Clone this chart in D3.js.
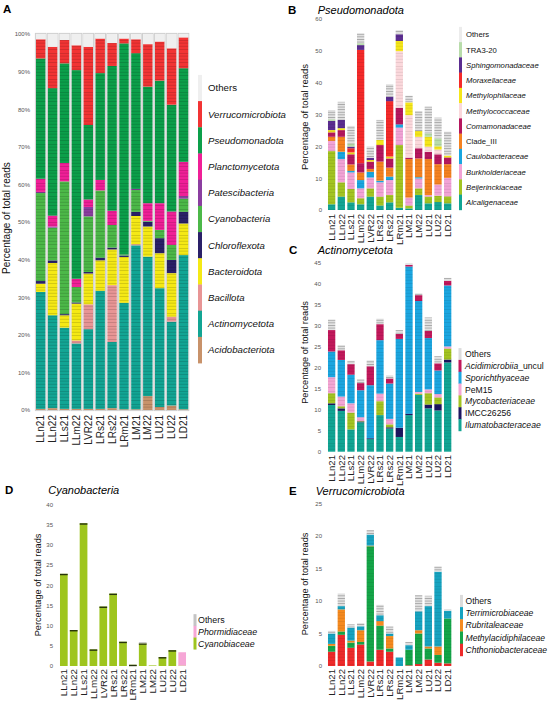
<!DOCTYPE html>
<html><head><meta charset="utf-8">
<script src="https://cdn.jsdelivr.net/npm/d3@7"></script>
<style>
body{margin:0;background:#fff;}
svg{display:block;font-family:"Liberation Sans",Arial,sans-serif;}
</style></head><body>
<svg id="chart" width="550" height="702"></svg>
<script>
const samples = ["LLn21","LLn22","LLs21","LLm22","LVR22","LRs21","LRs22","LRm21","LM21","LM22","LU21","LU22","LD21"];

// ---- Panel A: phyla (% of total reads), bottom -> top
const phylaA = ["Acidobacteriota","Actinomycetota","Bacillota","Bacteroidota","Chloroflexota","Cyanobacteria","Patescibacteria","Planctomycetota","Pseudomonadota","Verrucomicrobiota","Others"];
const colorsA = ["#c8926a","#12a594","#e89595","#f5e915","#2a2068","#4cb848","#8b3ea0","#f01f97","#0c9f4a","#f23434","#efefef"];
const aAcidobacteriota   = [0.3,0.5,0.3,0.3,0.3,0.3,0.5,0.2,0.2,3.7,0.8,1.2,0.2];
const aActinomycetota    = [31.1,24.7,21.6,17.4,21.2,31.4,17.6,28.3,43.6,37.1,31.6,22.3,41.0];
const aBacillota         = [0,0,0,0.8,6.6,0,15.1,0,0.3,0,0,1.3,0];
const aBacteroidota      = [2.2,13.9,3.3,9.8,8.2,8.1,9.5,12.2,7.5,8.0,9.3,11.6,8.4];
const aChloroflexota     = [0.7,0.7,0.3,0.3,0.4,0.7,0.5,0.4,1.1,1.3,4.0,3.5,3.1];
const aCyanobacteria     = [23.4,8.7,35.3,4.1,14.8,17.9,6.0,0.3,5.8,0.2,2.2,4.0,3.5];
const aPatescibacteria   = [0.3,0.3,0,0,2.5,0,0,0,0.3,0,0,0,0.7];
const aPlanctomycetota   = [3.5,2.9,4.9,2.2,2.0,2.8,3.8,0,0,4.7,7.1,8.9,9.1];
const aPseudomonadota    = [32.0,33.9,26.5,55.5,19.8,28.4,38.5,56.1,36.1,31.0,32.6,28.4,24.9];
const aVerrucomicrobiota = [5.1,11.0,6.2,6.6,20.8,9.2,6.1,1.3,3.7,11.3,10.4,15.0,8.2];
const aOthers            = [1.4,3.4,1.6,3.0,3.4,1.2,2.4,1.2,1.4,2.7,2.0,3.8,0.9];

// ---- Panel B: Pseudomonadota families
const famB = ["Alcaligenaceae","Beijerinckiaceae","Burkholderiaceae","Caulobacteraceae","Clade_III","Comamonadaceae","Methylococcaceae","Methylophilaceae","Moraxellaceae","Sphingomonadaceae","TRA3-20","Others"];
const colorsB = ["#12a594","#a3c422","#f2a3d6","#19a6e0","#f58220","#b5175e","#fbd8dc","#f5e61a","#f42a2a","#5b2d90","#b8dcaa","url(#oth)"];
const bAlcaligenaceae    = [1.8,4.2,2.4,1.8,4.2,1.4,2.4,0.7,0.5,4.7,2.1,2.5,2.1];
const bBeijerinckiaceae  = [16.7,4.5,4.2,1.9,2.6,2.8,2.3,19.7,0.9,2.1,2.1,2.0,2.2];
const bBurkholderiaceae  = [3.2,7.3,5.2,3.1,3.4,4.5,4.7,5.5,2.5,3.1,0.5,3.5,5.8];
const bCaulobacteraceae  = [0,2.3,0.5,2.6,1.8,0.5,1.1,1.0,0,0.4,0,0,0];
const bCladeIII          = [1.3,4.7,2.0,2.4,0.9,6.0,2.8,0,12.1,5.9,11.3,6.4,4.3];
const bComamonadaceae    = [1.4,2.1,3.2,2.9,2.3,5.2,2.9,5.2,0.4,3.2,2.3,3.1,2.1];
const bMethylococcaceae  = [0,0,0,0,0,0,0,17.8,13.4,3.6,1.6,1.5,0];
const bMethylophilaceae  = [0.7,0.6,0.6,0,0.5,1.6,0.6,3.2,4.0,1.8,3.1,1.0,0.6];
const bMoraxellaceae     = [0,0,1.3,35.6,0,0,17.4,0,0,0,0,0,0];
const bSphingomonadaceae = [2.9,2.6,0.5,1.5,0.7,0,1.4,2.1,0,0,0,0,0];
const bTRA320            = [0.5,0,1.0,0.6,0,0,0,0,0,0,1.1,2.5,0];
const bOthers            = [2.9,5.7,5.5,3.1,3.5,6.3,3.9,1.3,2.1,6.3,8.4,6.5,7.5];

// ---- Panel C: Actinomycetota families
const famC = ["Ilumatobacteraceae","IMCC26256","Mycobacteriaceae","PeM15","Sporichthyaceae","Acidimicrobiia_uncul","Others"];
const colorsC = ["#12a594","#1c1660","#a3c422","#f5a6d4","#1ba6e0","#c2185b","url(#oth)"];
const cIlumatobacteraceae = [11.1,9.7,5.3,7.0,3.0,8.7,5.5,3.5,8.7,13.5,10.3,9.8,21.2];
const cIMCC26256          = [0.4,0.6,0,0.2,0.2,0,0.3,2.2,0.3,0,0.9,1.5,0.7];
const cMycobacteriaceae   = [2.4,0.5,4.0,0.1,0,3.3,0.7,0,0,0.3,2.7,1.6,2.6];
const cPeM15              = [3.8,2.3,2.2,0.9,0,1.8,1.3,0,0,0.4,0.9,0.8,0.5];
const cSporichthyaceae    = [6.1,8.7,6.8,6.4,12.6,12.7,8.4,21.1,35.0,21.6,12.2,5.6,14.5];
const cAcidimicrobiia     = [5.1,2.3,2.5,1.7,4.5,3.8,1.2,1.2,0.4,1.4,1.7,1.7,1.1];
const cOthers             = [2.5,1.2,0.8,0.9,1.4,1.3,0.7,0.9,0.3,0.4,3.2,1.7,0.7];

// ---- Panel D: Cyanobacteria families
const famD = ["Cyanobiaceae","Phormidiaceae","Others"];
const colorsD = ["#9ec51e","#f6a6d6","#c4c4c4"];
const dCyanobiaceae  = [22.8,8.9,35.3,4.1,14.7,17.9,6.0,0.3,5.6,0.15,2.2,3.9,0.1];
const dPhormidiaceae = [0,0,0,0,0,0,0,0,0,0,0,0,3.3];
const dOthers        = [0,0,0,0,0,0,0,0,0.3,0,0,0,0];

// ---- Panel E: Verrucomicrobiota families
const famE = ["Chthoniobacteraceae","Methylacidiphilaceae","Rubritaleaceae","Terrimicrobiaceae","Others"];
const colorsE = ["#ee2a2a","#14a548","#f58a1f","#17a3c0","url(#oth)"];
const eChthoniobacteraceae  = [2.2,4.8,2.8,3.3,0.7,2.5,2.2,0,0.1,0.3,1.0,0.5,0.4];
const eMethylacidiphilaceae = [0.9,0.5,0.8,0.4,17.7,3.7,0.5,0,2.4,4.7,1.7,1.2,6.9];
const eRubritaleaceae       = [0.3,3.4,0.3,1.8,0.1,0.7,1.9,0,0,0.5,0.3,1.3,0];
const eTerrimicrobiaceae    = [1.6,0.5,2.0,0.6,1.7,0.9,0.4,1.3,0.7,2.9,6.2,11.5,1.2];
const eOthers               = [0.4,1.9,0.5,0.5,0.7,1.6,1.1,0,0.5,2.5,1.6,0.8,0.2];

const ticksA = d3.range(0,101,10), ticksB = d3.range(0,61,10), ticksC = d3.range(0,46,5), ticksD = d3.range(0,41,5), ticksE = d3.range(0,26,5);
const upright = new Set(["Others","TRA3-20","Clade_III","PeM15","IMCC26256"]);

const svg = d3.select("#chart");
const defs = svg.append("defs");
const tex = defs.append("pattern").attr("id","tex").attr("patternUnits","userSpaceOnUse").attr("width",20).attr("height",13);
[1.2,3.8,6.9,10.4].forEach(v=>tex.append("rect").attr("x",0).attr("y",v).attr("width",20).attr("height",0.55).attr("fill","rgba(0,0,0,0.28)"));
const oth = defs.append("pattern").attr("id","oth").attr("patternUnits","userSpaceOnUse").attr("width",10).attr("height",2.6);
oth.append("rect").attr("width",10).attr("height",2.6).attr("fill","#e3e3e3");
oth.append("rect").attr("width",10).attr("height",0.9).attr("fill","#a6a6a6");

const FONT = "Liberation Sans, Arial, sans-serif";

function drawPanel(c){
  const g = svg.append("g");
  const x = d3.scaleBand().domain(samples).range(c.xr).paddingInner(c.pad).paddingOuter(c.pad/2);
  const y = d3.scaleLinear().domain([0,c.ymax]).range(c.yr);
  const rows = samples.map((s,i)=>{const o={sample:s}; c.names.forEach((k,j)=>o[k]=c.values[j][i]); return o;});
  const stacked = d3.stack().keys(c.names)(rows);
  if(c.outline){
    g.selectAll("rect.ol").data(samples).join("rect").attr("class","ol")
      .attr("x",d=>x(d)-0.6).attr("y",y(100)-0.6).attr("width",x.bandwidth()+1.2).attr("height",y(0)-y(100)+1.2)
      .attr("fill","none").attr("stroke","#cfcfcf").attr("stroke-width",1);
  }
  const layers = g.selectAll("g.layer").data(stacked).join("g").attr("class","layer");
  layers.each(function(L,i){
    const segs = L.filter(p=>p[1]-p[0]>0);
    const sel = d3.select(this);
    sel.selectAll("rect.s").data(segs).join("rect").attr("class","s")
      .attr("x",d=>x(d.data.sample)).attr("width",x.bandwidth())
      .attr("y",d=>y(d[1])).attr("height",d=>y(d[0])-y(d[1]))
      .attr("fill",c.fills[i]);
    if(c.names[i]!=="Others" && c.tex>0){
      sel.selectAll("rect.t").data(segs).join("rect").attr("class","t")
        .attr("x",d=>x(d.data.sample)).attr("width",x.bandwidth())
        .attr("y",d=>y(d[1])).attr("height",d=>y(d[0])-y(d[1]))
        .attr("fill","url(#tex)").attr("opacity",c.tex);
    }
    if(c.topLine && c.names[i]==="Cyanobiaceae"){
      sel.selectAll("rect.tl").data(segs.filter(d=>d[1]-d[0]>0.2)).join("rect").attr("class","tl")
        .attr("x",d=>x(d.data.sample)).attr("width",x.bandwidth())
        .attr("y",d=>y(d[1])).attr("height",1.4).attr("fill","#26330c");
    }
  });
  const ay = g.append("g").attr("transform",`translate(${c.tickX},0)`)
    .call(d3.axisLeft(y).tickValues(c.ticks).tickSize(0).tickPadding(0).tickFormat(c.fmt||(d=>d)));
  ay.attr("font-family",FONT); ay.select(".domain").remove();
  ay.selectAll("text").attr("font-size",6).attr("fill","#555");
  const ax = g.append("g").attr("transform",`translate(0,${c.xlabY})`)
    .call(d3.axisBottom(x).tickSize(0).tickPadding(0));
  ax.attr("font-family",FONT); ax.select(".domain").remove();
  ax.selectAll("text").attr("transform","rotate(-90)").attr("text-anchor","end")
    .attr("x",0).attr("y",0).attr("dy","0.36em").attr("font-size",c.xfs).attr("fill","#222");
  g.append("text").attr("transform",`translate(${c.ylab[0]},${c.ylab[1]}) rotate(-90)`)
    .attr("text-anchor","middle").attr("font-size",c.ylab[2]).attr("fill","#111").text("Percentage of total reads");
  // legend
  const lg = c.legend;
  const items = c.names.map((n,i)=>({n, f: c.legFills ? c.legFills[i] : c.fills[i]})).reverse();
  const texts = [];
  let refNode = null;
  items.forEach((it,k)=>{
    const cy = lg.c0 + k*lg.step;
    g.append("rect").attr("x",lg.x).attr("y",cy-lg.step/2).attr("width",lg.w).attr("height",lg.step+0.3).attr("fill",it.f);
    const t = g.append("text").attr("x",lg.tx).attr("y",cy).attr("dy","0.36em").attr("font-size",lg.fs).attr("fill","#111");
    if(it.n.endsWith("_uncul")){
      t.append("tspan").attr("font-style","italic").text(it.n.replace("_uncul",""));
      t.append("tspan").text("_uncul");
    } else {
      t.attr("font-style", upright.has(it.n)?"normal":"italic").text(it.n);
    }
    texts.push(t);
    if(lg.ref && it.n===lg.ref[0]) refNode = t.node();
  });
  if(refNode){
    const w = refNode.getComputedTextLength();
    if(w>0){
      const fs = Math.max(6, Math.min(12, lg.fs*lg.ref[1]/w));
      texts.forEach(t=>t.attr("font-size",fs));
    }
  }
  g.append("text").attr("x",c.title[1]).attr("y",c.title[2]).attr("font-size",11.5).attr("font-weight","bold").text(c.title[0]);
  if(c.sub) g.append("text").attr("x",c.sub[1]).attr("y",c.sub[2]).attr("font-size",11).attr("font-style","italic").text(c.sub[0]);
}

drawPanel({names:phylaA, values:[aAcidobacteriota,aActinomycetota,aBacillota,aBacteroidota,aChloroflexota,aCyanobacteria,aPatescibacteria,aPlanctomycetota,aPseudomonadota,aVerrucomicrobiota,aOthers],
  fills:colorsA, xr:[34.75,189.45], pad:0.21, yr:[410,34], ymax:100, ticks:ticksA, fmt:d=>d+"%", tickX:30, xlabY:415, xfs:10,
  outline:true, tex:0.9, ylab:[10,218,10],
  legend:{x:198,w:4,c0:88,step:26.2,tx:208,fs:9.8,ref:["Others",29]}, title:["A",3,13.3]});

drawPanel({names:famB, values:[bAlcaligenaceae,bBeijerinckiaceae,bBurkholderiaceae,bCaulobacteraceae,bCladeIII,bComamonadaceae,bMethylococcaceae,bMethylophilaceae,bMoraxellaceae,bSphingomonadaceae,bTRA320,bOthers],
  fills:colorsB, legFills:colorsB.map(f=>f==="url(#oth)"?"#ececec":f), xr:[326.8,452.5], pad:0.245, yr:[210,19], ymax:60, ticks:ticksB, tickX:322, xlabY:214, xfs:9.6,
  tex:0.5, ylab:[308,117,9.5],
  legend:{x:459,w:3,c0:34.5,step:15.25,tx:466,fs:7.8,ref:["Sphingomonadaceae",72.7]}, title:["B",288,13.5], sub:["Pseudomonadota",317.7,13.5]});

drawPanel({names:famC, values:[cIlumatobacteraceae,cIMCC26256,cMycobacteriaceae,cPeM15,cSporichthyaceae,cAcidimicrobiia,cOthers],
  fills:colorsC, legFills:colorsC.map(f=>f==="url(#oth)"?"#dcdcdc":f), xr:[326.8,452.5], pad:0.245, yr:[451.7,262.3], ymax:45, ticks:ticksC, tickX:321, xlabY:455, xfs:9.6,
  tex:0.5, ylab:[308,352.5,9.2],
  legend:{x:458.5,w:3,c0:354,step:11.83,tx:465,fs:8.6,ref:["Sporichthyaceae",64.3]}, title:["C",289,253.5], sub:["Actinomycetota",317.7,253.5]});

drawPanel({names:famD, values:[dCyanobiaceae,dPhormidiaceae,dOthers],
  fills:colorsD, xr:[58.9,187.1], pad:0.22, yr:[666,504.3], ymax:40, ticks:ticksD, tickX:53, xlabY:669, xfs:9.8,
  tex:0, topLine:true, ylab:[41,585,9.2],
  legend:{x:193.5,w:3,c0:620,step:11.7,tx:198,fs:8.9,ref:["Cyanobiaceae",56.7]}, title:["D",5,494], sub:["Cyanobacteria",48.3,494]});

drawPanel({names:famE, values:[eChthoniobacteraceae,eMethylacidiphilaceae,eRubritaleaceae,eTerrimicrobiaceae,eOthers],
  fills:colorsE, legFills:colorsE.map(f=>f==="url(#oth)"?"#dcdcdc":f), xr:[326.8,452.5], pad:0.245, yr:[666,503.3], ymax:25, ticks:ticksE, tickX:322, xlabY:669, xfs:9.6,
  tex:0.45, ylab:[308,584,9.2],
  legend:{x:460,w:3,c0:601,step:12.2,tx:465.5,fs:8.6,ref:["Chthoniobacteraceae",81.7]}, title:["E",289,495], sub:["Verrucomicrobiota",315.7,495]});
</script>
</body></html>
